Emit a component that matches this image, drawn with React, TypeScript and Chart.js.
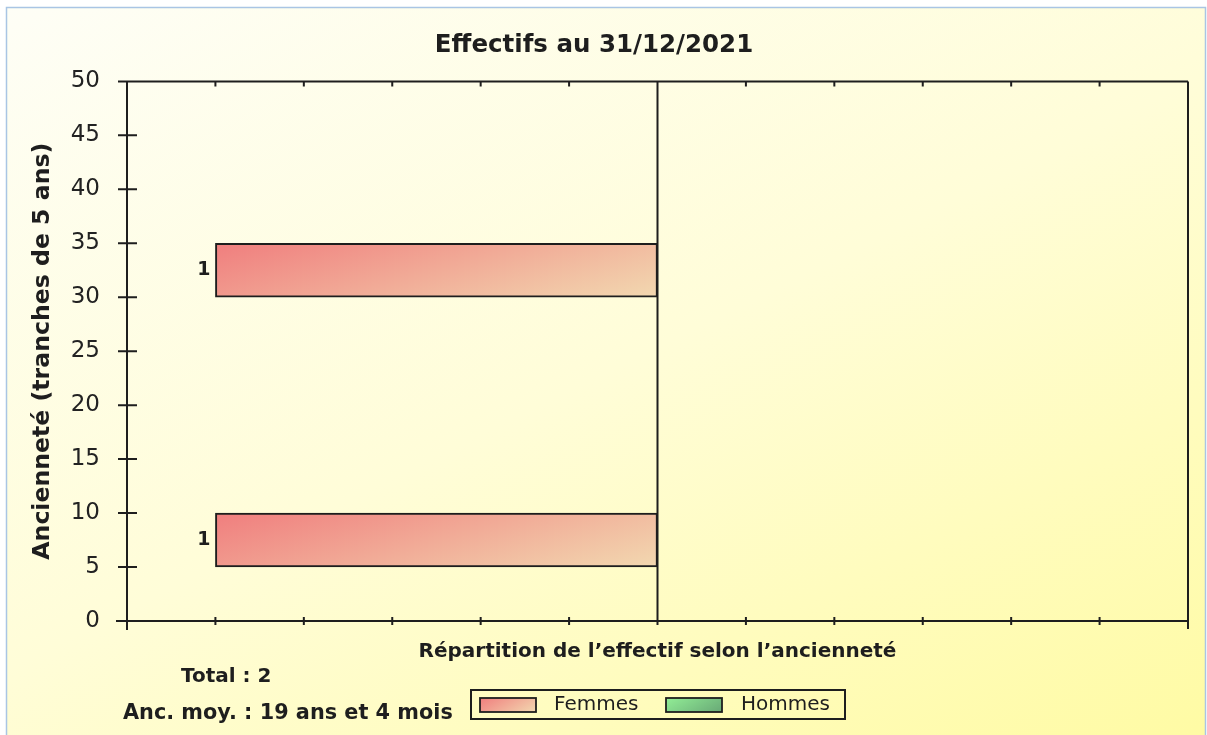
import React, { useEffect, useRef } from "react";
import { Chart, registerables } from "chart.js";

Chart.register(...registerables);

// ---------- data ----------
const TITLE = "Effectifs au 31/12/2021";
const X_TITLE = "Répartition de l’effectif selon l’ancienneté";
const Y_TITLE = "Ancienneté (tranches de 5 ans)";
const TRANCHES = ["0-5", "5-10", "10-15", "15-20", "20-25", "25-30", "30-35", "35-40", "40-45", "45-50"];
const FEMMES = [0, 1, 0, 0, 0, 0, 1, 0, 0, 0];
const HOMMES = [0, 0, 0, 0, 0, 0, 0, 0, 0, 0];
const SERIES_LABELS = ["Femmes", "Hommes"];
const Y_MIN = 0;
const Y_MAX = 50;
const Y_STEP = 5;
const X_MIN = -1.2;
const X_MAX = 1.2;
const X_STEP = 0.2;
const TOTAL_TEXT = "Total : 2";
const ANC_TEXT = "Anc. moy. : 19 ans et 4 mois";

// ---------- styles ----------
const FONT = "'DejaVu Sans', Verdana, sans-serif";
const INK = "#1e1e1e";
const FEM_COLORS = ["rgb(240,126,126)", "rgb(242,216,176)"];
const HOM_COLORS = ["rgb(146,238,150)", "rgb(104,168,118)"];

function boxGradient(
  ctx: CanvasRenderingContext2D,
  x0: number,
  y0: number,
  w: number,
  h: number,
  cols: string[],
  wx = 0.7,
  wy = 0.3
) {
  const a = wx / Math.max(w, 1);
  const b = wy / Math.max(h, 1);
  const n = a * a + b * b;
  const g = ctx.createLinearGradient(x0, y0, x0 + a / n, y0 + b / n);
  for (let i = 0; i < cols.length; i++) g.addColorStop(i / (cols.length - 1), cols[i]);
  return g;
}

function scriptableFill(cols: string[]) {
  return (c: any) => {
    const chart = c.chart;
    const xs = chart.scales.x;
    const ys = chart.scales.y;
    if (!xs || !ys || c.type !== "data" || c.raw == null) return cols[0];
    const xa = xs.getPixelForValue(0);
    const xb = xs.getPixelForValue(c.raw);
    const yc = ys.getPixelForValue(c.dataIndex);
    const half = Math.abs(ys.getPixelForValue(1) - ys.getPixelForValue(0)) / 2;
    return boxGradient(chart.ctx, Math.min(xa, xb), yc - half, Math.abs(xb - xa), half * 2, cols);
  };
}

const decorPlugin = {
  id: "decor",
  beforeDraw(chart: any) {
    const { ctx, width, height } = chart;
    ctx.save();
    ctx.fillStyle = "#ffffff";
    ctx.fillRect(0, 0, width, height);
    ctx.fillStyle = boxGradient(ctx, 7, 8, width - 9, height - 8, ["#FEFEF6", "#FFFDD8", "#FFFBA4"], 0.45, 0.55);
    ctx.fillRect(7, 8, width - 9, height - 8);
    ctx.strokeStyle = "#A9C5E4";
    ctx.lineWidth = 1.5;
    ctx.beginPath();
    ctx.moveTo(6.5, height);
    ctx.lineTo(6.5, 7.5);
    ctx.lineTo(width - 1.5, 7.5);
    ctx.lineTo(width - 1.5, height);
    ctx.stroke();
    ctx.restore();
  },
  afterDatasetsDraw(chart: any) {
    const { ctx, chartArea: a, scales } = chart;
    const xs = scales.x;
    const ys = scales.yLin;
    ctx.save();
    ctx.strokeStyle = INK;
    ctx.lineWidth = 2;
    ctx.lineCap = "butt";
    ctx.beginPath();
    // frame
    ctx.moveTo(a.left - 9, a.top);
    ctx.lineTo(a.right, a.top);
    ctx.moveTo(a.left - 11, a.bottom);
    ctx.lineTo(a.right, a.bottom);
    ctx.moveTo(a.left, a.top);
    ctx.lineTo(a.left, a.bottom + 9);
    ctx.moveTo(a.right, a.top);
    ctx.lineTo(a.right, a.bottom + 8);
    // zero line
    const x0 = xs.getPixelForValue(0);
    ctx.moveTo(x0, a.top);
    ctx.lineTo(x0, a.bottom);
    // y ticks
    ys.ticks.forEach((t: any) => {
      const y = ys.getPixelForValue(t.value);
      if (t.value <= Y_MIN || t.value >= Y_MAX) return;
      ctx.moveTo(a.left - 9, y);
      ctx.lineTo(a.left + 10, y);
    });
    // x ticks
    xs.ticks.forEach((t: any) => {
      const x = xs.getPixelForValue(t.value);
      if (Math.abs(x - a.left) < 2 || Math.abs(x - a.right) < 2) return;
      ctx.moveTo(x, a.bottom - 4);
      ctx.lineTo(x, a.bottom + 4);
      ctx.moveTo(x, a.top);
      ctx.lineTo(x, a.top + 5);
    });
    ctx.stroke();

    // value labels
    ctx.fillStyle = INK;
    ctx.font = `bold 19px ${FONT}`;
    ctx.textBaseline = "middle";
    chart.data.datasets.forEach((ds: any, i: number) => {
      const meta = chart.getDatasetMeta(i);
      meta.data.forEach((el: any, j: number) => {
        const v = ds.data[j];
        if (v == null || v === 0) return;
        const left = Math.min(el.x, el.base);
        const right = Math.max(el.x, el.base);
        if (v < 0) {
          ctx.textAlign = "right";
          ctx.fillText(String(Math.abs(v)), left - 5, el.y);
        } else {
          ctx.textAlign = "left";
          ctx.fillText(String(Math.abs(v)), right + 5, el.y);
        }
      });
    });
    ctx.restore();
  },
  afterDraw(chart: any) {
    const { ctx } = chart;
    ctx.save();
    ctx.fillStyle = INK;
    ctx.textBaseline = "alphabetic";
    ctx.textAlign = "left";
    ctx.font = `bold 20px ${FONT}`;
    ctx.fillText(TOTAL_TEXT, 181, 682);
    ctx.font = `bold 20.8px ${FONT}`;
    ctx.fillText(ANC_TEXT, 123, 719);

    // legend box
    const lx = 471, ly = 690, lw = 374, lh = 29;
    ctx.strokeStyle = INK;
    ctx.lineWidth = 2;
    ctx.strokeRect(lx, ly, lw, lh);
    const items = [
      { sx: 480, tx: 554, cols: FEM_COLORS },
      { sx: 666, tx: 741, cols: HOM_COLORS },
    ];
    ctx.font = `20px ${FONT}`;
    ctx.textBaseline = "middle";
    chart.data.datasets.forEach((ds: any, i: number) => {
      const it = items[i];
      if (!it) return;
      const sw = 56, sh = 14, sy = 698;
      ctx.fillStyle = boxGradient(ctx, it.sx, sy, sw, sh, it.cols);
      ctx.fillRect(it.sx, sy, sw, sh);
      ctx.lineWidth = 1.8;
      ctx.strokeRect(it.sx, sy, sw, sh);
      ctx.fillStyle = INK;
      ctx.fillText(ds.label, it.tx, 705);
    });
    ctx.restore();
  },
};

export default function App() {
  const ref = useRef<HTMLCanvasElement | null>(null);

  useEffect(() => {
    document.body.style.margin = "0";
    document.body.style.overflow = "hidden";
    const canvas = ref.current;
    if (!canvas) return;
    const toBar = (arr: number[], sign: number) => arr.map((v) => (v ? sign * v : null));
    const chart = new Chart(canvas, {
      type: "bar",
      data: {
        labels: TRANCHES,
        datasets: [
          {
            label: SERIES_LABELS[0],
            data: toBar(FEMMES, -1) as any,
            backgroundColor: scriptableFill(FEM_COLORS) as any,
            borderColor: INK,
            borderWidth: 2,
            borderSkipped: false,
            barPercentage: 1,
            categoryPercentage: 1,
          },
          {
            label: SERIES_LABELS[1],
            data: toBar(HOMMES, 1) as any,
            backgroundColor: scriptableFill(HOM_COLORS) as any,
            borderColor: INK,
            borderWidth: 2,
            borderSkipped: false,
            barPercentage: 1,
            categoryPercentage: 1,
          },
        ],
      },
      options: {
        indexAxis: "y",
        responsive: false,
        animation: false,
        devicePixelRatio: 1,
        layout: { padding: { left: 0, right: 19, top: 0, bottom: 0 } },
        plugins: {
          legend: { display: false },
          tooltip: { enabled: false },
          title: {
            display: true,
            text: TITLE,
            color: INK,
            font: { family: FONT, size: 24.5, weight: "bold" },
            padding: { top: 31, bottom: 21 },
          },
        },
        scales: {
          x: {
            type: "linear",
            position: "bottom",
            min: X_MIN,
            max: X_MAX,
            stacked: true,
            ticks: { display: false, stepSize: X_STEP },
            grid: { display: false, drawTicks: false },
            border: { display: false },
            title: {
              display: true,
              text: X_TITLE,
              color: INK,
              font: { family: FONT, size: 20, weight: "bold" },
              padding: { top: 0, bottom: 71 },
            },
            afterFit: (s: any) => {
              s.height = 114;
            },
          },
          y: {
            type: "category",
            display: false,
            reverse: true,
            stacked: true,
            offset: true,
          },
          yLin: {
            type: "linear",
            position: "left",
            min: Y_MIN,
            max: Y_MAX,
            offset: false,
            ticks: {
              stepSize: Y_STEP,
              color: "#222",
              padding: 27,
              font: { family: FONT, size: 23 },
            },
            grid: { display: false, drawTicks: false, offset: false },
            border: { display: false },
            title: {
              display: true,
              text: Y_TITLE,
              color: INK,
              font: { family: FONT, size: 23.6, weight: "bold" },
              padding: { top: 29, bottom: 0 },
            },
            afterFit: (s: any) => {
              s.width = 127;
            },
          },
        },
      } as any,
      plugins: [decorPlugin],
    });
    return () => chart.destroy();
  }, []);

  return (
    <div style={{ width: 1207, height: 735 }}>
      <canvas ref={ref} width={1207} height={735} style={{ display: "block" }} />
    </div>
  );
}
